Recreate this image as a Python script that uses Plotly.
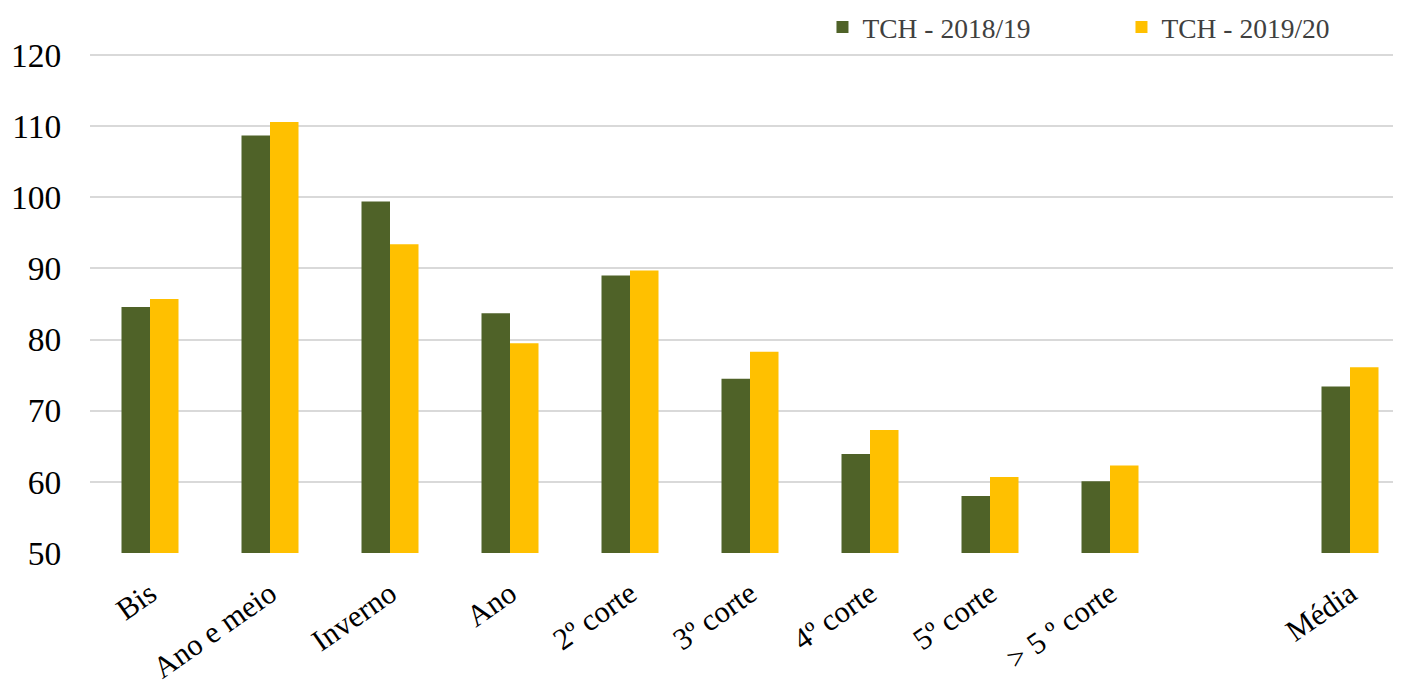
import plotly.graph_objects as go

categories = ["Bis", "Ano e meio", "Inverno", "Ano", "2º corte", "3º corte",
              "4º corte", "5º corte", "> 5 º corte", " ", "Média"]
tch_2018_19 = [84.6, 108.7, 99.4, 83.7, 89.0, 74.5, 63.9, 58.0, 60.1, None, 73.4]
tch_2019_20 = [85.7, 110.6, 93.4, 79.5, 89.7, 78.3, 67.3, 60.7, 62.3, None, 76.1]

FONT = "Liberation Serif"

fig = go.Figure()
fig.add_trace(go.Bar(x=categories, y=tch_2018_19, name="TCH - 2018/19",
                     marker=dict(color="#4F6228", line=dict(width=0))))
fig.add_trace(go.Bar(x=categories, y=tch_2019_20, name="TCH - 2019/20",
                     marker=dict(color="#FFC000", line=dict(width=0))))

fig.update_layout(
    width=1401, height=684,
    margin=dict(l=82, r=11, t=46, b=139, autoexpand=False),
    paper_bgcolor="white", plot_bgcolor="white",
    barmode="group", bargap=0.525, bargroupgap=0,
    font=dict(family=FONT, color="black"),
    legend=dict(orientation="h", x=0.560, xanchor="left", y=0.972, yanchor="middle",
                yref="container", font=dict(size=27.5, color="#404040"),
                entrywidth=254, entrywidthmode="pixels",
                bgcolor="rgba(0,0,0,0)"),
    showlegend=True,
)
fig.update_xaxes(type="category", categoryorder="array", categoryarray=categories,
                 range=[-0.5, 10.4], tickangle=-35, tickfont=dict(size=30.5, family=FONT),
                 showgrid=False, showline=False, ticks="outside", ticklen=0,
                 ticklabelstandoff=10, automargin=False)
fig.update_yaxes(range=[50, 120.15], dtick=10, tickfont=dict(size=33.5, family=FONT),
                 showgrid=True, gridcolor="#D9D9D9", gridwidth=1.5, zeroline=False,
                 showline=False, ticks="outside", ticklen=0, ticklabelstandoff=21,
                 automargin=False)

fig.write_html("out.html")
